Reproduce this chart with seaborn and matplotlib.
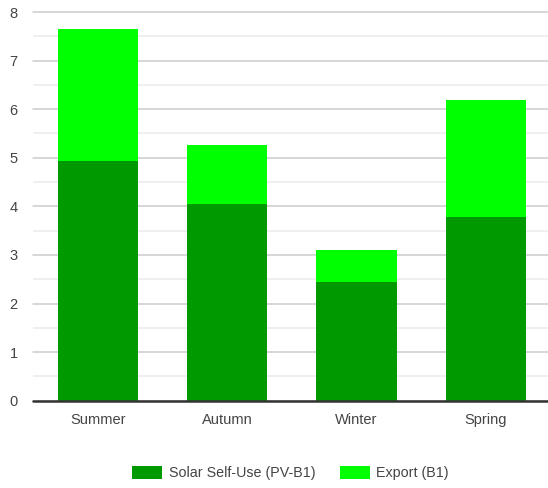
import matplotlib
matplotlib.use("Agg")
import matplotlib.pyplot as plt
from matplotlib.patches import Patch
import seaborn as sns
import pandas as pd
import numpy as np

seasons = ["Summer", "Autumn", "Winter", "Spring"]
self_use = [4.93, 4.05, 2.44, 3.78]
export = [2.72, 1.22, 0.66, 2.41]
series_names = ["Solar Self-Use (PV-B1)", "Export (B1)"]
y_ticks = [0, 1, 2, 3, 4, 5, 6, 7, 8]

dark_green = "#009900"
bright_green = "#00ff00"

sns.set_theme(style="white")
plt.rcParams["font.family"] = ["Liberation Sans", "DejaVu Sans"]

df = pd.DataFrame({
    "season": seasons,
    "self_use": self_use,
    "total": np.array(self_use) + np.array(export),
})

W, H = 548, 488
fig = plt.figure(figsize=(W / 100, H / 100), dpi=100)
left, right = 33, 548
top, bottom = 12, 400.7
ax = fig.add_axes([left / W, 1 - bottom / H, (right - left) / W, (bottom - top) / H])

# stacked bars: full height in bright green, self-use part on top in dark green
sns.barplot(data=df, x="season", y="total", color=bright_green, saturation=1,
            width=0.62, ax=ax, zorder=3, linewidth=0)
sns.barplot(data=df, x="season", y="self_use", color=dark_green, saturation=1,
            width=0.62, ax=ax, zorder=3, linewidth=0)

ax.set_xlim(-0.5, 3.48)
ax.set_ylim(0, 8)
ax.set_yticks(y_ticks)
ax.set_yticks(np.arange(0.5, 8, 1), minor=True)
ax.grid(axis="y", which="major", color="#cccccc", linewidth=1.1, zorder=0)
ax.grid(axis="y", which="minor", color="#ebebeb", linewidth=1.1, zorder=0)
ax.grid(axis="x", visible=False)
ax.axhline(0, color="#333333", linewidth=1.8, zorder=4, clip_on=False)
for s in ax.spines.values():
    s.set_visible(False)
for line in ax.get_ygridlines():
    line.set_clip_on(False)

ax.set_xlabel("")
ax.set_ylabel("")
ax.tick_params(axis="both", which="both", length=0, labelsize=10.5, labelcolor="#444444")
ax.tick_params(axis="y", pad=14)
ax.tick_params(axis="x", pad=9)
for lbl in ax.get_yticklabels():
    lbl.set_horizontalalignment("center")

handles = [Patch(facecolor=dark_green, edgecolor="none"),
           Patch(facecolor=bright_green, edgecolor="none")]
fig.legend(handles, series_names, loc="center",
           bbox_to_anchor=((left + right) / 2 / W, 1 - 473 / H),
           ncol=2, frameon=False, fontsize=10.3, handlelength=2.1, handleheight=1.05,
           handletextpad=0.45, columnspacing=1.7, labelcolor="#444444")

fig.savefig("out.png", dpi=100)
